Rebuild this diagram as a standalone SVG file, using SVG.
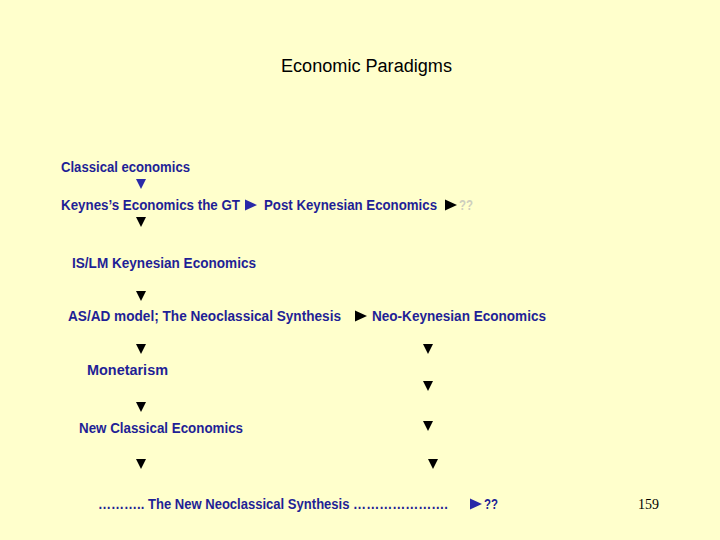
<svg xmlns="http://www.w3.org/2000/svg" width="720" height="540" viewBox="0 0 720 540">
<defs>
<style>
.t{font-family:"Liberation Sans",Arial,sans-serif;font-weight:bold;font-size:14.5px;fill:#1f1f96}
.title{font-family:"Liberation Sans",Arial,sans-serif;font-size:18px;fill:#000}
.num{font-family:"Liberation Serif","Times New Roman",serif;font-size:14px;fill:#000}
.grey{fill:#cfcfbf}
.blk{fill:#000}
.blu{fill:#2a2aa8}
</style>
<polygon id="dn" points="-5,-5 5,-5 0,5"/>
<polygon id="rt" points="-6,-5.5 6,0 -6,5.5"/>
</defs>
<rect width="720" height="540" fill="#ffffcc"/>
<text class="title" x="281" y="72" textLength="171" lengthAdjust="spacingAndGlyphs">Economic Paradigms</text>
<g id="n-classical"><text class="t" x="61" y="172" textLength="129" lengthAdjust="spacingAndGlyphs">Classical economics</text></g>
<g id="n-keynes"><text class="t" x="61" y="210" textLength="179" lengthAdjust="spacingAndGlyphs">Keynes’s Economics the GT</text></g>
<g id="n-postkeynes"><text class="t" x="264" y="210" textLength="173" lengthAdjust="spacingAndGlyphs">Post Keynesian Economics</text></g>
<g id="n-q1"><text class="t grey" x="459" y="210" textLength="14" lengthAdjust="spacingAndGlyphs">??</text></g>
<g id="n-islm"><text class="t" x="72" y="268" textLength="184" lengthAdjust="spacingAndGlyphs">IS/LM Keynesian Economics</text></g>
<g id="n-asad"><text class="t" x="68" y="321" textLength="273" lengthAdjust="spacingAndGlyphs">AS/AD model; The Neoclassical Synthesis</text></g>
<g id="n-neok"><text class="t" x="372" y="321" textLength="174" lengthAdjust="spacingAndGlyphs">Neo-Keynesian Economics</text></g>
<g id="n-monet"><text class="t" x="87" y="375" textLength="81" lengthAdjust="spacingAndGlyphs">Monetarism</text></g>
<g id="n-newclass"><text class="t" x="79" y="433" textLength="164" lengthAdjust="spacingAndGlyphs">New Classical Economics</text></g>
<g id="n-nns"><text class="t" x="98" y="509" textLength="350" lengthAdjust="spacingAndGlyphs">……….. The New Neoclassical Synthesis ………………….</text></g>
<g id="n-q2"><text class="t" x="484" y="509" textLength="14" lengthAdjust="spacingAndGlyphs">??</text></g>
<g id="connectors">
<use href="#dn" x="141" y="184" class="blu"/>
<use href="#rt" x="251" y="205" class="blu"/>
<use href="#rt" x="451" y="205" class="blk"/>
<use href="#dn" x="141" y="222" class="blk"/>
<use href="#dn" x="141" y="296" class="blk"/>
<use href="#rt" x="361" y="316" class="blk"/>
<use href="#dn" x="141" y="349" class="blk"/>
<use href="#dn" x="428" y="349" class="blk"/>
<use href="#dn" x="428" y="386" class="blk"/>
<use href="#dn" x="141" y="407" class="blk"/>
<use href="#dn" x="428" y="426" class="blk"/>
<use href="#dn" x="141" y="464" class="blk"/>
<use href="#dn" x="433" y="464" class="blk"/>
<use href="#rt" x="476" y="504" class="blu"/>
</g>
<text class="num" x="638" y="509">159</text>
</svg>
